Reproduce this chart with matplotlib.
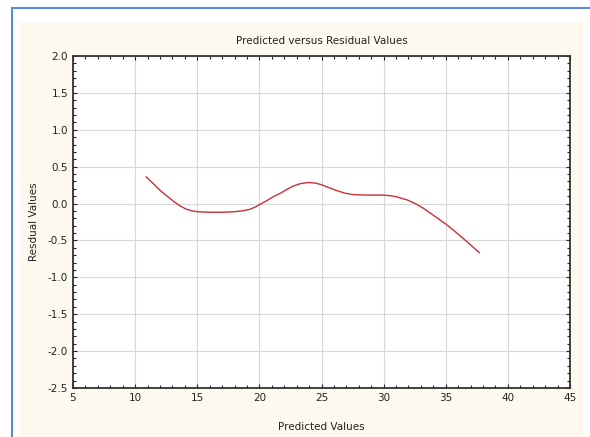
import matplotlib
matplotlib.use("Agg")
import matplotlib.pyplot as plt
from matplotlib.patches import Rectangle
from matplotlib.ticker import MultipleLocator

# values
predicted = [10.9, 11.4, 12.0, 12.5, 13.1, 13.6, 14.1, 14.6, 15.1, 16.0, 17.0, 17.9,
             18.6, 19.2, 19.7, 20.0, 20.7, 21.2, 21.7, 22.2, 22.7, 23.3, 23.9, 24.5,
             25.0, 25.6, 26.2, 26.9, 27.6, 28.5, 29.5, 30.0, 30.5, 31.0, 31.5, 31.9,
             32.6, 33.2, 34.1, 35.1, 35.9, 36.7, 37.7]
residual = [0.36, 0.28, 0.18, 0.11, 0.03, -0.03, -0.075, -0.10, -0.112, -0.118, -0.118, -0.112,
            -0.10, -0.08, -0.045, -0.015, 0.05, 0.10, 0.14, 0.19, 0.235, 0.27, 0.285, 0.278,
            0.255, 0.215, 0.177, 0.14, 0.12, 0.115, 0.115, 0.114, 0.107, 0.094, 0.068, 0.049,
            -0.005, -0.064, -0.17, -0.29, -0.40, -0.516, -0.665]

fig = plt.figure(figsize=(5.9, 4.37), dpi=100)
fig.patch.set_facecolor("white")

# outer window frame and cream panel
fig.patches.append(Rectangle((12 / 590, -0.1), 1.2, (437 - 8) / 437 + 0.1,
                             transform=fig.transFigure, facecolor="white",
                             edgecolor="#5a8ad8", linewidth=1.5, zorder=-2))
fig.patches.append(Rectangle((20 / 590, 0), (583 - 20) / 590, (437 - 22) / 437,
                             transform=fig.transFigure, facecolor="#fdf9ee",
                             edgecolor="none", zorder=-1))

ax = fig.add_axes([73 / 590, 1 - 388 / 437, (570 - 73) / 590, (388 - 56) / 437])
ax.set_facecolor("white")
ax.plot(predicted, residual, color="#c8303a", linewidth=1.0)

ax.set_xlim(5, 45)
ax.set_ylim(-2.5, 2.0)
ax.xaxis.set_major_locator(MultipleLocator(5))
ax.xaxis.set_minor_locator(MultipleLocator(1))
ax.yaxis.set_major_locator(MultipleLocator(0.5))
ax.yaxis.set_minor_locator(MultipleLocator(0.1))
ax.yaxis.set_major_formatter(plt.FuncFormatter(lambda v, p: f"{v:.1f}"))

ax.grid(True, which="major", color="#d8d8d8", linewidth=0.8)
ax.set_axisbelow(True)
ax.tick_params(which="both", direction="in", top=True, right=True,
               labelsize=7.5, colors="#222222", width=0.8)
ax.tick_params(which="major", length=3)
ax.tick_params(which="minor", length=2)
for s in ax.spines.values():
    s.set_color("#333333")
    s.set_linewidth(1.3)

ax.set_title("Predicted versus Residual Values", fontsize=7.5, pad=9, color="#222222")
ax.set_xlabel("Predicted Values", fontsize=7.5, labelpad=14, color="#222222")
ax.set_ylabel("Resdual Values", fontsize=7.5, labelpad=6, color="#222222")

fig.savefig("out.png", dpi=100)
